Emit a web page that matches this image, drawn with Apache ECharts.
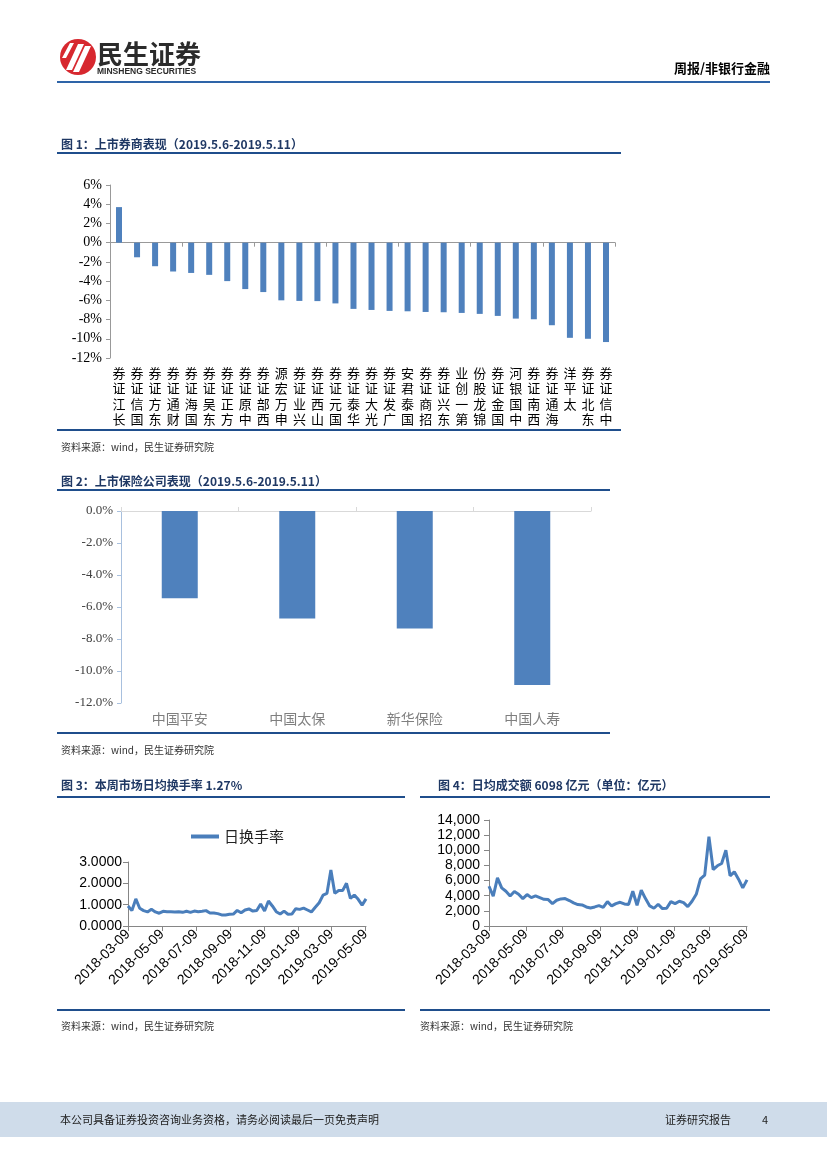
<!DOCTYPE html>
<html><head><meta charset="utf-8">
<script src="https://cdn.jsdelivr.net/npm/echarts@6/dist/echarts.min.js"></script>
<style>html,body{margin:0;padding:0;background:#fff}#c{width:827px;height:1169px}</style>
</head><body><div id="c"></div>
<script>
// ---- Figure 1: broker weekly performance (%)
const brokerNames = ['长江证券','国信证券','东方证券','财通证券','国海证券','东吴证券','方正证券','中原证券','西部证券','申万宏源','兴业证券','山西证券','国元证券','华泰证券','光大证券','广发证券','国泰君安','招商证券','东兴证券','第一创业','锦龙股份','国金证券','中国银河','西南证券','海通证券','太平洋','东北证券','中信证券'];
const brokerReturns = [3.70,-1.52,-2.45,-3.00,-3.15,-3.35,-4.00,-4.83,-5.14,-6.00,-6.06,-6.08,-6.32,-6.89,-7.00,-7.10,-7.14,-7.21,-7.24,-7.31,-7.41,-7.62,-7.90,-7.97,-8.59,-9.90,-10.00,-10.34];
const fig1Ticks = {min:-12, max:6, interval:2};
// ---- Figure 2: insurers weekly performance (%)
const insurerNames = ['中国平安','中国太保','新华保险','中国人寿'];
const insurerReturns = [-5.46,-6.72,-7.35,-10.87];
const fig2Ticks = {min:-12, max:0, interval:2};
// ---- Figures 3 & 4: weekly series
const weekDates = ['2018-03-09','2018-03-16','2018-03-23','2018-03-30','2018-04-06','2018-04-13','2018-04-20','2018-04-27','2018-05-04','2018-05-11','2018-05-18','2018-05-25','2018-06-01','2018-06-08','2018-06-15','2018-06-22','2018-06-29','2018-07-06','2018-07-13','2018-07-20','2018-07-27','2018-08-03','2018-08-10','2018-08-17','2018-08-24','2018-08-31','2018-09-07','2018-09-14','2018-09-21','2018-09-28','2018-10-05','2018-10-12','2018-10-19','2018-10-26','2018-11-02','2018-11-09','2018-11-16','2018-11-23','2018-11-30','2018-12-07','2018-12-14','2018-12-21','2018-12-28','2019-01-04','2019-01-11','2019-01-18','2019-01-25','2019-02-01','2019-02-08','2019-02-15','2019-02-22','2019-03-01','2019-03-08','2019-03-15','2019-03-22','2019-03-29','2019-04-05','2019-04-12','2019-04-19','2019-04-26','2019-05-03','2019-05-10'];
const turnover = [0.94,0.72,1.27,0.83,0.72,0.66,0.78,0.66,0.60,0.69,0.67,0.67,0.66,0.67,0.64,0.69,0.64,0.70,0.67,0.69,0.72,0.61,0.61,0.58,0.52,0.52,0.55,0.56,0.73,0.62,0.75,0.80,0.70,0.73,1.03,0.70,1.17,0.94,0.67,0.56,0.70,0.55,0.56,0.81,0.78,0.84,0.75,0.66,0.88,1.09,1.45,1.53,2.63,1.53,1.66,1.66,2.00,1.30,1.45,1.25,0.98,1.27];
const amount = [5250,3930,6360,5030,4590,3970,4550,4190,3620,4150,3750,3970,3750,3530,3490,2960,3400,3580,3620,3360,3050,2830,2780,2520,2380,2520,2690,2470,3220,2650,2960,3130,2910,2830,4590,2740,4720,3620,2650,2340,2870,2300,2340,3220,2960,3270,3090,2560,3270,4190,6220,6710,11790,7460,7950,8260,10000,6620,7150,6180,5030,6098];
const tickDates = ['2018-03-09','2018-05-09','2018-07-09','2018-09-09','2018-11-09','2019-01-09','2019-03-09','2019-05-09'];
const fig3Ticks = {min:0, max:3, interval:1};
const fig4Ticks = {min:0, max:14000, interval:2000};

// daily category axis (scaffolding only)
const days = [];
{ let d = new Date(Date.UTC(2018,2,9)); const end = Date.UTC(2019,4,10);
  while (d.getTime() <= end) { days.push(d.toISOString().slice(0,10)); d = new Date(d.getTime()+86400000); } }
const isTick = (i, v) => tickDates.indexOf(v) >= 0;

const BLUE = '#4f81bd', LINE = '#4a7ebb', NAVY = '#1f3864', RULE = '#1f4e8c';
const CJK = '"Noto Sans CJK SC", sans-serif';
const SERIF = '"Liberation Serif", serif';
const SANS = '"Liberation Sans", Arial, sans-serif';

function hline(x1, x2, y, w, c) { return {type:'line', silent:true, shape:{x1, y1:y, x2, y2:y}, style:{stroke:c||RULE, lineWidth:w||2}}; }
function txt(x, y, s, font, fill, align) { return {type:'text', silent:true, style:{x, y, text:s, font, fill:fill||'#000', align:align||'left', verticalAlign:'middle'}}; }

const graphics = [
  // logo
  {type:'circle', shape:{cx:78, cy:57, r:18}, style:{fill:'#d7282f'}},
  {type:'polygon', shape:{points:[[66,70],[72,70],[84,44],[78,44]]}, style:{fill:'#fff'}},
  {type:'polygon', shape:{points:[[73,72],[79,72],[91,46],[85,46]]}, style:{fill:'#fff'}},
  {type:'polygon', shape:{points:[[62,58],[66,58],[74,43],[70,43]]}, style:{fill:'#fff'}},
  txt(97, 54, '民生证券', 'bold 26px ' + CJK, '#2b2b2b'),
  txt(97, 72, 'MINSHENG SECURITIES', 'bold 8.5px ' + SANS, '#2b2b2b'),
  txt(770, 68, '周报/非银行金融', 'bold 13px ' + CJK, '#000', 'right'),
  hline(57, 770, 82, 2.2, '#2e64a8'),
  // figure 1 frame
  txt(61, 144, '图 1：上市券商表现（2019.5.6-2019.5.11）', 'bold 12px ' + CJK, NAVY),
  hline(57, 621, 153, 2),
  hline(57, 621, 430, 2),
  txt(61, 447, '资料来源：wind，民生证券研究院', '10px ' + CJK, '#333'),
  // figure 2 frame
  txt(61, 481, '图 2：上市保险公司表现（2019.5.6-2019.5.11）', 'bold 12px ' + CJK, NAVY),
  hline(57, 610, 490, 2),
  hline(57, 610, 733, 2),
  txt(61, 750, '资料来源：wind，民生证券研究院', '10px ' + CJK, '#333'),
  // figure 3 frame
  txt(61, 785, '图 3：本周市场日均换手率 1.27%', 'bold 12px ' + CJK, NAVY),
  hline(57, 405, 797, 2),
  hline(57, 405, 1010, 2),
  txt(61, 1026, '资料来源：wind，民生证券研究院', '10px ' + CJK, '#333'),
  // figure 4 frame
  txt(438, 785, '图 4：日均成交额 6098 亿元（单位：亿元）', 'bold 12px ' + CJK, NAVY),
  hline(420, 770, 797, 2),
  hline(420, 770, 1010, 2),
  txt(420, 1026, '资料来源：wind，民生证券研究院', '10px ' + CJK, '#333'),
  // footer
  {type:'rect', silent:true, shape:{x:0, y:1102, width:827, height:35}, style:{fill:'#cfdcea'}},
  txt(60, 1120, '本公司具备证券投资咨询业务资格，请务必阅读最后一页免责声明', '11px ' + CJK, '#222'),
  txt(665, 1120, '证券研究报告', '11px ' + CJK, '#222'),
  txt(762, 1120, '4', '11px ' + CJK, '#222')
];

const chart = echarts.init(document.getElementById('c'), null, {renderer:'canvas'});
chart.setOption({
  animation:false,
  backgroundColor:'#fff',
  graphic: graphics,
  legend: {data:['日换手率'], left:186, top:824, icon:'rect', itemWidth:28, itemHeight:4, itemGap:5,
    textStyle:{fontFamily:CJK, fontSize:15, color:'#222'}},
  grid: [
    {left:110, top:185, width:505, height:173},
    {left:121, top:511, width:470, height:192},
    {left:128, top:862, width:238, height:64},
    {left:489, top:820, width:258, height:106}
  ],
  xAxis: [
    {type:'category', gridIndex:0, data:brokerNames, axisLine:{onZero:true, lineStyle:{color:'#999'}},
      axisTick:{show:true, length:4, lineStyle:{color:'#999'}}, axisLabel:{show:false}},
    {type:'category', gridIndex:0, data:brokerNames, position:'bottom', axisLine:{show:false, onZero:false}, axisTick:{show:false},
      axisLabel:{interval:0, margin:7, fontFamily:CJK, fontSize:13, lineHeight:15.5, color:'#000',
        formatter: v => v.split('').reverse().join('\n')}},
    {type:'category', gridIndex:1, data:insurerNames, axisLine:{onZero:true, lineStyle:{color:'#d9d9d9'}},
      axisTick:{show:true, inside:true, length:4, lineStyle:{color:'#d9d9d9'}}, axisLabel:{show:false}},
    {type:'category', gridIndex:1, data:insurerNames, position:'bottom', axisLine:{show:false, onZero:false}, axisTick:{show:false},
      axisLabel:{interval:0, margin:9, fontFamily:CJK, fontSize:14, color:'#7f7f7f'}},
    {type:'category', gridIndex:2, data:days, boundaryGap:false, axisLine:{lineStyle:{color:'#868686'}},
      axisTick:{show:true, interval:isTick, length:5, lineStyle:{color:'#868686'}},
      axisLabel:{interval:isTick, rotate:45, margin:6, fontFamily:SANS, fontSize:14, color:'#000'}},
    {type:'category', gridIndex:3, data:days, boundaryGap:false, axisLine:{lineStyle:{color:'#868686'}},
      axisTick:{show:true, interval:isTick, length:5, lineStyle:{color:'#868686'}},
      axisLabel:{interval:isTick, rotate:45, margin:6, fontFamily:SANS, fontSize:14, color:'#000'}}
  ],
  yAxis: [
    {type:'value', gridIndex:0, min:fig1Ticks.min, max:fig1Ticks.max, interval:fig1Ticks.interval,
      axisLine:{show:true, lineStyle:{color:'#999'}}, axisTick:{show:true, length:4, lineStyle:{color:'#999'}}, splitLine:{show:false},
      axisLabel:{formatter:'{value}%', fontFamily:SERIF, fontSize:14, color:'#000', margin:8}},
    {type:'value', gridIndex:1, min:fig2Ticks.min, max:fig2Ticks.max, interval:fig2Ticks.interval,
      axisLine:{show:true, lineStyle:{color:'#a8c0de'}}, axisTick:{show:true, length:4, lineStyle:{color:'#a8c0de'}}, splitLine:{show:false},
      axisLabel:{formatter: v => v.toFixed(1) + '%', fontFamily:SERIF, fontSize:13, color:'#404040', margin:8}},
    {type:'value', gridIndex:2, min:fig3Ticks.min, max:fig3Ticks.max, interval:fig3Ticks.interval,
      axisLine:{show:true, lineStyle:{color:'#868686'}}, axisTick:{show:true, length:5, lineStyle:{color:'#868686'}}, splitLine:{show:false},
      axisLabel:{formatter: v => v.toFixed(4), fontFamily:SANS, fontSize:14, color:'#000', margin:6}},
    {type:'value', gridIndex:3, min:fig4Ticks.min, max:fig4Ticks.max, interval:fig4Ticks.interval,
      axisLine:{show:true, lineStyle:{color:'#868686'}}, axisTick:{show:true, length:5, lineStyle:{color:'#868686'}}, splitLine:{show:false},
      axisLabel:{formatter: v => v.toLocaleString('en-US'), fontFamily:SANS, fontSize:14, color:'#000', margin:9}}
  ],
  series: [
    {type:'bar', xAxisIndex:0, yAxisIndex:0, data:brokerReturns, barWidth:6, itemStyle:{color:BLUE}},
    {type:'bar', xAxisIndex:2, yAxisIndex:1, data:insurerReturns, barWidth:36, itemStyle:{color:BLUE}},
    {type:'line', name:'日换手率', xAxisIndex:4, yAxisIndex:2, data:weekDates.map((d,i)=>[d, turnover[i]]),
      symbol:'none', lineStyle:{width:3, color:LINE}, itemStyle:{color:LINE}},
    {type:'line', name:'日均成交额', xAxisIndex:5, yAxisIndex:3, data:weekDates.map((d,i)=>[d, amount[i]]),
      symbol:'none', lineStyle:{width:3, color:LINE}, itemStyle:{color:LINE}}
  ]
});
</script></body></html>
